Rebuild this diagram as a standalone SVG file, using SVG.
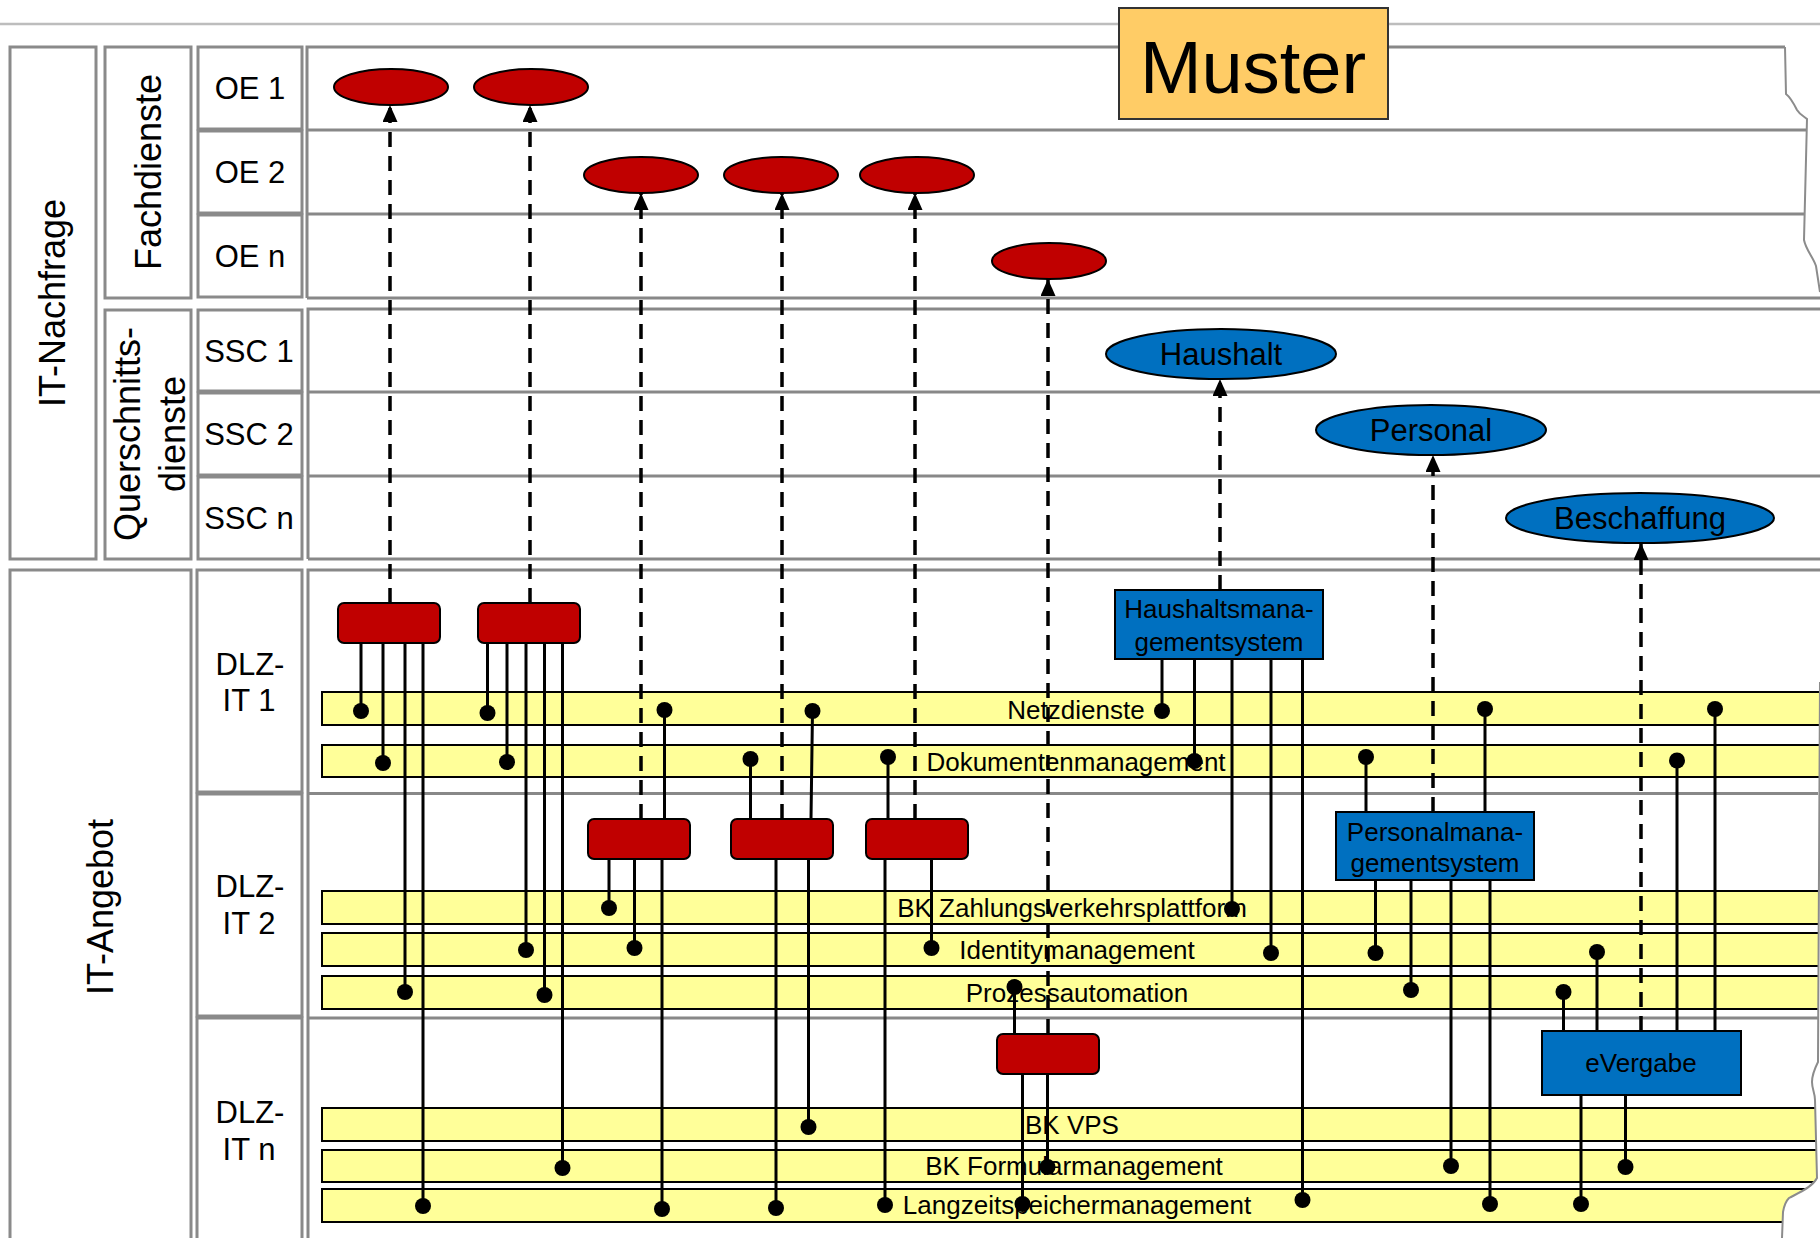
<svg xmlns="http://www.w3.org/2000/svg" width="1820" height="1238" viewBox="0 0 1820 1238">
<defs>
<style>
text{font-family:"Liberation Sans",Arial,sans-serif;fill:#000}
.cell{fill:#fff;stroke:#8a8a8a;stroke-width:3}
.lane{fill:none;stroke:#888;stroke-width:3}
.torn{fill:none;stroke:#8c8c8c;stroke-width:2}
.lbl{font-size:31px;text-anchor:middle}
.rot{font-size:36px;text-anchor:middle}
.red{fill:#C00000;stroke:#000;stroke-width:2}
.blue{fill:#0070C0;stroke:#000;stroke-width:2}
.bar{fill:#FFFF99;stroke:#000;stroke-width:2}
.barlbl{font-size:26px;text-anchor:middle}
.elbl{font-size:31px;text-anchor:middle}
.blbl{font-size:26px;text-anchor:middle}
.sol{stroke:#000;stroke-width:3;fill:none}
.dash{stroke:#000;stroke-width:3.5;fill:none;stroke-dasharray:15 9;marker-end:url(#arr)}
.dot{fill:#000}
</style>
<marker id="arr" viewBox="0 0 17 15" refX="17" refY="7.5" markerUnits="userSpaceOnUse" markerWidth="17" markerHeight="15" orient="auto">
<path d="M0,0 L17,7.5 L0,15 Z" fill="#000" stroke="none"/>
</marker>
<clipPath id="tornclip">
<path d="M0,0 H1820 V682 L1818,1062 C1815,1068 1812,1075 1812,1082 C1812,1089 1815,1093 1815,1100 L1817,1178 C1812,1188 1796,1194 1789,1198 C1785,1202 1784,1206 1783,1212 L1782,1238 H0 Z"/>
</clipPath>
</defs>
<rect width="1820" height="1238" fill="#fff"/>
<path d="M0,24 H1820" stroke="#bdbdbd" stroke-width="2.5"/>

<g id="lanes">
<path class="lane" d="M307,298 V47 H1785 M307,130 H1806 M307,214 H1804 M307,298 H1820"/>
<path class="torn" d="M1785,47 L1786,94 C1790,97 1794,104 1797,110 C1800,115 1805,117 1807,119 L1804,240 C1806,250 1813,257 1816,266 L1820,292"/>
<path class="lane" d="M308,559 V309 H1820 M308,392 H1820 M308,476 H1820 M308,559 H1820"/>
<path class="lane" d="M308,1240 V570 H1820 M308,793.5 H1818 M308,1018 H1818"/>
</g>

<g id="cat-it-nachfrage"><rect class="cell" x="10" y="47" width="86" height="512"/><text class="rot" transform="translate(65,303) rotate(-90)">IT-Nachfrage</text></g>
<g id="cat-fachdienste"><rect class="cell" x="105" y="47" width="86" height="251"/><text class="rot" transform="translate(161,172) rotate(-90)">Fachdienste</text></g>
<g id="cat-querschnitt"><rect class="cell" x="105" y="310" width="86" height="249"/><text class="rot" transform="translate(140,434) rotate(-90)">Querschnitts-</text><text class="rot" transform="translate(185,434) rotate(-90)">dienste</text></g>
<g id="cat-it-angebot"><rect class="cell" x="10" y="570" width="181" height="700"/><text class="rot" transform="translate(113,907) rotate(-90)">IT-Angebot</text></g>

<g id="cell-oe1"><rect class="cell" x="198" y="47" width="104" height="82"/><text class="lbl" x="250" y="99">OE 1</text></g>
<g id="cell-oe2"><rect class="cell" x="198" y="131" width="104" height="82"/><text class="lbl" x="250" y="183">OE 2</text></g>
<g id="cell-oen"><rect class="cell" x="198" y="215" width="104" height="82"/><text class="lbl" x="250" y="267">OE n</text></g>
<g id="cell-ssc1"><rect class="cell" x="198" y="310" width="104" height="81"/><text class="lbl" x="249" y="362">SSC 1</text></g>
<g id="cell-ssc2"><rect class="cell" x="198" y="393" width="104" height="82"/><text class="lbl" x="249" y="445">SSC 2</text></g>
<g id="cell-sscn"><rect class="cell" x="198" y="477" width="104" height="82"/><text class="lbl" x="249" y="529">SSC n</text></g>
<g id="cell-dlz1"><rect class="cell" x="197" y="570" width="105" height="222"/><text class="lbl" x="250" y="675">DLZ-</text><text class="lbl" x="249" y="711">IT 1</text></g>
<g id="cell-dlz2"><rect class="cell" x="197" y="794" width="105" height="222"/><text class="lbl" x="250" y="897">DLZ-</text><text class="lbl" x="249" y="934">IT 2</text></g>
<g id="cell-dlzn"><rect class="cell" x="197" y="1018" width="105" height="260"/><text class="lbl" x="250" y="1123">DLZ-</text><text class="lbl" x="249" y="1160">IT n</text></g>

<g id="muster"><rect x="1119" y="8" width="269" height="111" fill="#FFCC66" stroke="#333" stroke-width="2"/><text x="1253" y="93" font-size="74" text-anchor="middle">Muster</text></g>

<g id="bars" clip-path="url(#tornclip)">
<g id="bar-netz"><rect class="bar" x="322" y="692" width="1520" height="33"/><text class="barlbl" x="1076" y="719">Netzdienste</text></g>
<g id="bar-doku"><rect class="bar" x="322" y="745" width="1520" height="32"/><text class="barlbl" x="1076" y="771">Dokumentenmanagement</text></g>
<g id="bar-bkz"><rect class="bar" x="322" y="891" width="1520" height="33"/><text class="barlbl" x="1072" y="917">BK Zahlungsverkehrsplattform</text></g>
<g id="bar-idm"><rect class="bar" x="322" y="933" width="1520" height="33"/><text class="barlbl" x="1077" y="959">Identitymanagement</text></g>
<g id="bar-proz"><rect class="bar" x="322" y="976" width="1520" height="33"/><text class="barlbl" x="1077" y="1002">Prozessautomation</text></g>
<g id="bar-vps"><rect class="bar" x="322" y="1108" width="1520" height="33"/><text class="barlbl" x="1072" y="1134">BK VPS</text></g>
<g id="bar-form"><rect class="bar" x="322" y="1150" width="1520" height="32"/><text class="barlbl" x="1074" y="1175">BK Formularmanagement</text></g>
<g id="bar-lang"><rect class="bar" x="322" y="1189" width="1520" height="33"/><text class="barlbl" x="1077" y="1214">Langzeitspeichermanagement</text></g>
</g>
<path class="torn" d="M1820,682 L1818,1062 C1815,1068 1812,1075 1812,1082 C1812,1089 1815,1093 1815,1100 L1817,1178 C1812,1188 1796,1194 1789,1198 C1785,1202 1784,1206 1783,1212 L1782,1238"/>

<g id="connectors">
<path class="sol" d="M361,643V711 M383,643V763 M405,643V992 M423,643V1206
M487.5,643V713 M507,643V762 M526,643V950 M544.5,643V995 M562.5,643V1168
M664.5,819V710 M609,859V908 M634.5,859V948 M662,859V1209
M750.5,819V759 M811,819L812.5,711 M776,859V1208 M808.5,859V1127
M888,819V757 M931.5,859V948 M885,859V1205
M1014.5,1034V987 M1022.5,1074V1204 M1047.5,1074V1167
M1162,659V711 M1194.5,659V761 M1232,659V909 M1271,659V953 M1302.5,659V1200
M1366,812V757 M1485,812V709 M1375.5,880V953 M1411,880V990 M1451,880V1166 M1490,880V1204
M1563.5,1031V992 M1597,1031V952 M1677,1031V760.5 M1715,1031V709 M1581,1095V1204 M1625.5,1095V1167"/>
<path class="dash" d="M390,603V105"/>
<path class="dash" d="M530,603V105"/>
<path class="dash" d="M641,819V193"/>
<path class="dash" d="M782,819V193"/>
<path class="dash" d="M915,819V193"/>
<path class="dash" d="M1048,1034V279"/>
<path class="dash" d="M1220,590V379"/>
<path class="dash" d="M1433,812V455"/>
<path class="dash" d="M1641,1031V543"/>
<g id="dots" class="dot">
<circle cx="361" cy="711" r="8"/><circle cx="383" cy="763" r="8"/><circle cx="405" cy="992" r="8"/><circle cx="423" cy="1206" r="8"/>
<circle cx="487.5" cy="713" r="8"/><circle cx="507" cy="762" r="8"/><circle cx="526" cy="950" r="8"/><circle cx="544.5" cy="995" r="8"/><circle cx="562.5" cy="1168" r="8"/>
<circle cx="664.5" cy="710" r="8"/><circle cx="609" cy="908" r="8"/><circle cx="634.5" cy="948" r="8"/><circle cx="662" cy="1209" r="8"/>
<circle cx="750.5" cy="759" r="8"/><circle cx="812.5" cy="711" r="8"/><circle cx="776" cy="1208" r="8"/><circle cx="808.5" cy="1127" r="8"/>
<circle cx="888" cy="757" r="8"/><circle cx="931.5" cy="948" r="8"/><circle cx="885" cy="1205" r="8"/>
<circle cx="1014.5" cy="987" r="8"/><circle cx="1022.5" cy="1204" r="8"/><circle cx="1047.5" cy="1167" r="8"/>
<circle cx="1162" cy="711" r="8"/><circle cx="1194.5" cy="761" r="8"/><circle cx="1232" cy="909" r="8"/><circle cx="1271" cy="953" r="8"/><circle cx="1302.5" cy="1200" r="8"/>
<circle cx="1366" cy="757" r="8"/><circle cx="1485" cy="709" r="8"/><circle cx="1375.5" cy="953" r="8"/><circle cx="1411" cy="990" r="8"/><circle cx="1451" cy="1166" r="8"/><circle cx="1490" cy="1204" r="8"/>
<circle cx="1563.5" cy="992" r="8"/><circle cx="1597" cy="952" r="8"/><circle cx="1677" cy="760.5" r="8"/><circle cx="1715" cy="709" r="8"/><circle cx="1581" cy="1204" r="8"/><circle cx="1625.5" cy="1167" r="8"/>
</g>
</g>

<g id="oe1-a"><ellipse class="red" cx="391" cy="87" rx="57" ry="18"/></g>
<g id="oe1-b"><ellipse class="red" cx="531" cy="87" rx="57" ry="18"/></g>
<g id="oe2-a"><ellipse class="red" cx="641" cy="175" rx="57" ry="18"/></g>
<g id="oe2-b"><ellipse class="red" cx="781" cy="175" rx="57" ry="18"/></g>
<g id="oe2-c"><ellipse class="red" cx="917" cy="175" rx="57" ry="18"/></g>
<g id="oen-a"><ellipse class="red" cx="1049" cy="261" rx="57" ry="18"/></g>
<g id="haushalt"><ellipse class="blue" cx="1221" cy="354" rx="115" ry="25"/><text class="elbl" x="1221" y="365">Haushalt</text></g>
<g id="personal"><ellipse class="blue" cx="1431" cy="430" rx="115" ry="25"/><text class="elbl" x="1431" y="441">Personal</text></g>
<g id="beschaffung"><ellipse class="blue" cx="1640" cy="518" rx="134" ry="25"/><text class="elbl" x="1640" y="529">Beschaffung</text></g>

<g id="dlz1-a"><rect class="red" x="338" y="603" width="102" height="40" rx="6"/></g>
<g id="dlz1-b"><rect class="red" x="478" y="603" width="102" height="40" rx="6"/></g>
<g id="dlz2-a"><rect class="red" x="588" y="819" width="102" height="40" rx="6"/></g>
<g id="dlz2-b"><rect class="red" x="731" y="819" width="102" height="40" rx="6"/></g>
<g id="dlz2-c"><rect class="red" x="866" y="819" width="102" height="40" rx="6"/></g>
<g id="dlzn-a"><rect class="red" x="997" y="1034" width="102" height="40" rx="6"/></g>
<g id="haushaltsmgmt"><rect class="blue" x="1115" y="590" width="208" height="69"/><text class="blbl" x="1219" y="618">Haushaltsmana-</text><text class="blbl" x="1219" y="651">gementsystem</text></g>
<g id="personalmgmt"><rect class="blue" x="1336" y="812" width="198" height="68"/><text class="blbl" x="1435" y="841">Personalmana-</text><text class="blbl" x="1435" y="872">gementsystem</text></g>
<g id="evergabe"><rect class="blue" x="1542" y="1031" width="199" height="64"/><text class="blbl" x="1641" y="1072">eVergabe</text></g>
</svg>
